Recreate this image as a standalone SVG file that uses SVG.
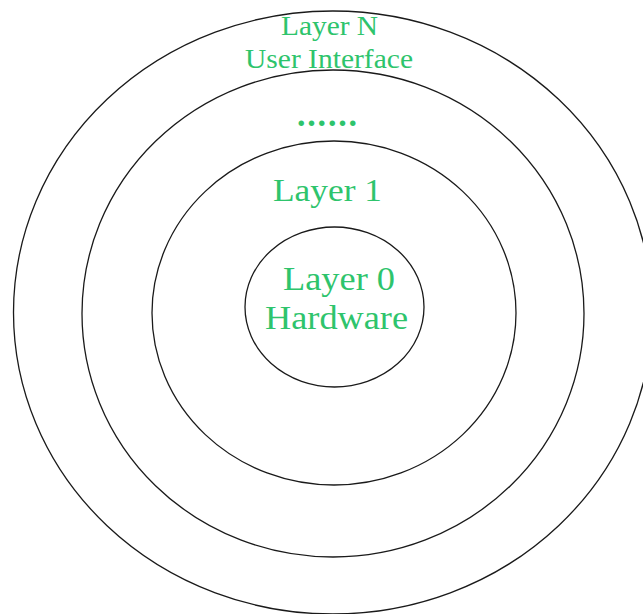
<svg xmlns="http://www.w3.org/2000/svg" width="643" height="614" viewBox="0 0 643 614">
  <style>
    .ring { fill: none; stroke: #1a1a1a; stroke-width: 1.3; }
    .lbl { font-family: "Liberation Serif", "Times New Roman", serif; fill: #2ec46c; text-anchor: start; }
  </style>
  <rect width="643" height="614" fill="#ffffff"/>
  <g id="layer-n">
    <ellipse class="ring" cx="332.8" cy="312.5" rx="319.3" ry="301.5"/>
    <text class="lbl" x="281" y="35" font-size="27" textLength="97" lengthAdjust="spacingAndGlyphs">Layer N</text>
    <text class="lbl" x="245" y="68" font-size="27" textLength="168" lengthAdjust="spacingAndGlyphs">User Interface</text>
  </g>
  <g id="layer-dots">
    <ellipse class="ring" cx="333" cy="313.5" rx="251" ry="243.5"/>
    <text class="lbl" x="297" y="125.5" font-size="34" font-weight="bold" textLength="60" lengthAdjust="spacing">......</text>
  </g>
  <g id="layer-1">
    <ellipse class="ring" cx="334" cy="313" rx="182" ry="172"/>
    <text class="lbl" x="273" y="201" font-size="32" textLength="109" lengthAdjust="spacingAndGlyphs">Layer 1</text>
  </g>
  <g id="layer-0">
    <ellipse class="ring" cx="334.5" cy="307" rx="89.5" ry="80"/>
    <text class="lbl" x="283" y="290" font-size="33" textLength="112" lengthAdjust="spacingAndGlyphs">Layer 0</text>
    <text class="lbl" x="265" y="329" font-size="33" textLength="143" lengthAdjust="spacingAndGlyphs">Hardware</text>
  </g>
  <g id="connectors"/>
</svg>
